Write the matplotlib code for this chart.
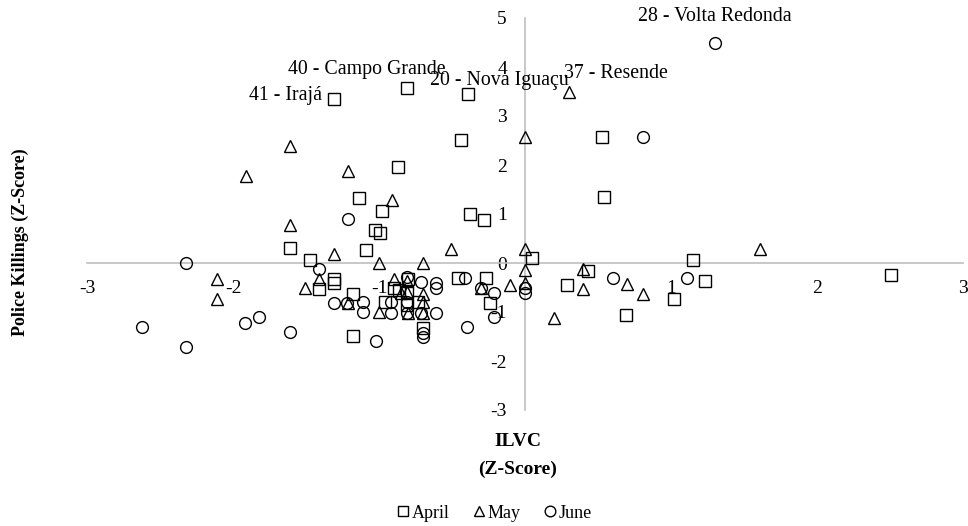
import matplotlib.pyplot as plt

plt.rcParams["font.family"] = ["Liberation Serif", "DejaVu Serif"]

# ILVC z-score (x) and police killings z-score (y), per month
april_x = [-1.31, -0.81, -0.39, -0.44, 0.53, 0.54, -0.87, -1.14, -0.98, -0.38,
           -0.28, -1.03, -0.99, -1.09, -1.61, -1.47, 0.05, 1.15, 2.51, 0.43,
           0.29, 1.23, 1.02, 0.69, -0.46, -0.27, -0.24, -1.41, -1.31, -1.31,
           -1.18, -1.18, -0.80, -0.90, -0.86, -0.81, -0.96, -0.81, -0.73, -0.70]
april_y = [3.35, 3.58, 3.44, 2.51, 2.58, 1.34, 1.95, 1.33, 1.06, 1.01,
           0.88, 0.67, 0.61, 0.27, 0.30, 0.07, 0.10, 0.07, -0.24, -0.16,
           -0.45, -0.37, -0.74, -1.06, -0.31, -0.30, -0.82, -0.53, -0.33, -0.40,
           -0.64, -1.49, -0.33, -0.52, -0.55, -0.59, -0.79, -0.86, -0.79, -1.33]

may_x = [0.30, 0.00, -1.61, -1.91, -1.21, -0.91, -1.61, -1.31, -0.51, 0.00,
         1.61, -1.00, -0.70, 0.00, 0.00, -0.10, -0.30, 0.40, 0.40, 0.70,
         0.81, 0.20, -2.11, -2.11, -1.41, -1.51, -1.21, -1.00, -0.90, -0.81,
         -0.81, -0.70, -0.70, -0.70, -0.80, -0.85]
may_y = [3.48, 2.58, 2.39, 1.78, 1.88, 1.29, 0.78, 0.18, 0.28, 0.28,
         0.28, 0.00, 0.00, -0.14, -0.41, -0.45, -0.52, -0.13, -0.53, -0.43,
         -0.63, -1.12, -0.33, -0.73, -0.33, -0.52, -0.82, -1.01, -0.33, -0.36,
         -0.59, -0.64, -0.79, -1.03, -1.03, -0.62]

june_x = [1.30, 0.81, -1.21, -2.32, -1.41, -2.62, -2.32, -1.92, -1.82, -1.61,
          -1.31, -1.22, -1.11, -1.11, -1.02, -0.92, -0.81, -0.81, -0.71, -0.61,
          -0.61, -0.92, -0.81, -0.71, -0.61, -0.70, -0.70, -0.41, -0.30, -0.21,
          -0.21, -0.40, 0.00, 0.00, 0.60, 1.11]
june_y = [4.49, 2.58, 0.89, 0.00, -0.12, -1.31, -1.71, -1.22, -1.11, -1.41,
          -0.82, -0.82, -0.79, -1.01, -1.59, -0.79, -0.79, -0.28, -0.38, -0.40,
          -0.50, -1.03, -1.03, -1.03, -1.03, -1.42, -1.50, -0.31, -0.50, -0.61,
          -1.10, -1.30, -0.52, -0.62, -0.31, -0.31]

# labelled municipalities: (series, index, text, offset in pixels)
labels = [
    ("april", 0, "41 - Irajá", (-48, 3)),
    ("april", 1, "40 - Campo Grande", (-40, 18)),
    ("april", 2, "20 - Nova Iguaçu", (31, 14)),
    ("may", 0, "37 - Resende", (47, 19)),
    ("june", 0, "28 - Volta Redonda", (0, 26)),
]

x_ticks = [-3, -2, -1, 1, 2, 3]
y_ticks = [-3, -2, -1, 0, 1, 2, 3, 4, 5]


def main():
    fig = plt.figure(figsize=(9.68, 5.26), dpi=100)
    ax = fig.add_axes([87 / 968, 1 - 410 / 526, 876 / 968, 392 / 526])

    mk = dict(linestyle="none", markerfacecolor="none", markeredgecolor="black",
              markeredgewidth=1.0, zorder=3)
    ax.plot(april_x, april_y, marker="s", markersize=8, label="April", **mk)
    ax.plot(may_x, may_y, marker="^", markersize=8, label="May", **mk)
    ax.plot(june_x, june_y, marker="o", markersize=8.5, label="June", **mk)

    series = {"april": (april_x, april_y), "may": (may_x, may_y), "june": (june_x, june_y)}
    for name, i, text, off in labels:
        xs, ys = series[name]
        ax.annotate(text, (xs[i], ys[i]), xytext=off, textcoords="offset pixels",
                    ha="center", va="center", fontsize=14.3)

    ax.set_xlim(-3, 3)
    ax.set_ylim(-3, 5)
    ax.spines["left"].set_position("zero")
    ax.spines["bottom"].set_position("zero")
    ax.spines["top"].set_visible(False)
    ax.spines["right"].set_visible(False)
    for s in ("left", "bottom"):
        ax.spines[s].set_color("#bfbfbf")
        ax.spines[s].set_linewidth(1.2)
    ax.set_xticks(x_ticks)
    ax.set_yticks(y_ticks)
    ax.set_xticklabels([str(t) for t in x_ticks])
    ax.set_yticklabels([str(t) for t in y_ticks])
    ax.tick_params(axis="x", length=0, pad=12, labelsize=14)
    ax.tick_params(axis="y", length=0, pad=13, labelsize=14)
    ax.patch.set_visible(False)

    fig.text(518 / 968, 1 - 442 / 526, "ILVC", ha="center", va="center",
             fontsize=14, fontweight="bold")
    fig.text(518 / 968, 1 - 469 / 526, "(Z-Score)", ha="center", va="center",
             fontsize=14, fontweight="bold")
    fig.text(20 / 968, 1 - 242 / 526, "Police Killings (Z-Score)", rotation=90,
             ha="center", va="center", fontsize=13, fontweight="bold")

    fig.legend(loc="center", bbox_to_anchor=(494 / 968, 1 - 513 / 526), ncol=3,
               frameon=False, fontsize=13, handlelength=0.8, handletextpad=0.1,
               columnspacing=1.2, markerscale=0.9)

    fig.savefig("out.png", dpi=100)
    plt.close(fig)


if __name__ == "__main__":
    main()
